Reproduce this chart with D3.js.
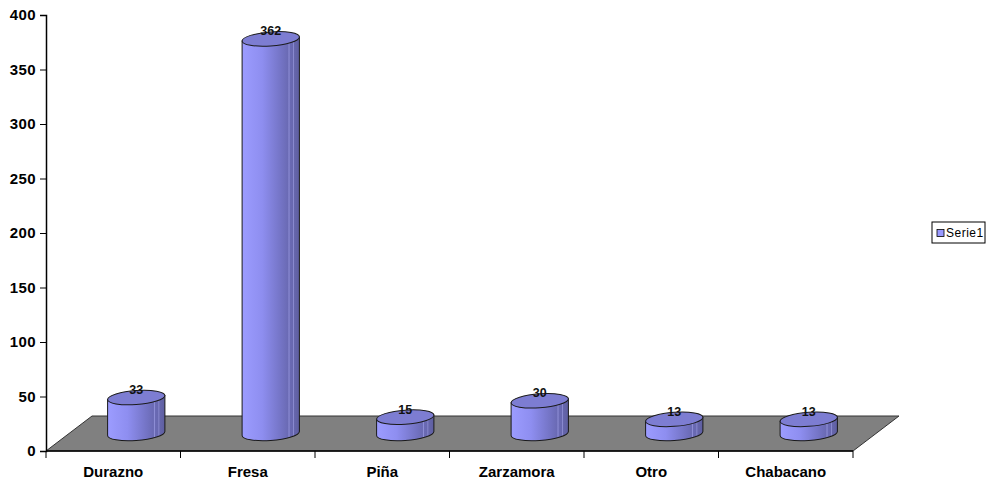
<!DOCTYPE html>
<html>
<head>
<meta charset="utf-8">
<script src="https://cdn.jsdelivr.net/npm/d3@7"></script>
<style>
  html, body { margin: 0; padding: 0; background: #fff; }
  svg { display: block; font-family: Arial, "Liberation Sans", sans-serif; }
</style>
</head>
<body>
<svg id="chart" width="993" height="480"></svg>
<script>
// Data
const categories = ["Durazno", "Fresa", "Piña", "Zarzamora", "Otro", "Chabacano"];
const values = [33, 362, 15, 30, 13, 13];
const yTicks = [0, 50, 100, 150, 200, 250, 300, 350, 400];
const seriesName = "Serie1";

const svg = d3.select("#chart");

// Plot frame: front edge of the floor and depth offset of the 3D box
const x = d3.scaleBand().domain(categories).range([46, 853]).padding(0);
const y = d3.scaleLinear().domain([0, 400]).range([451, 15]);
const depthX = 46, depthY = -35;

const defs = svg.append("defs");
const grad = defs.append("linearGradient").attr("id", "cyl").attr("x1", "0").attr("x2", "1").attr("y1", "0").attr("y2", "0");
[
  [0, "#9c9cff"], [0.35, "#8e8ef0"], [0.7, "#7272c2"], [0.8, "#6a6ab4"],
  [0.82, "#9090d8"], [0.835, "#6a6ab4"], [0.88, "#6868b0"], [0.895, "#8e8ed4"],
  [0.91, "#6666ac"], [1, "#5e5ea0"]
].forEach(([o, c]) => grad.append("stop").attr("offset", o).attr("stop-color", c));

// Floor
const x0 = x.range()[0], x1 = x.range()[1], y0 = y(0);
svg.append("path")
  .attr("d", `M${x0},${y0} L${x0 + depthX},${y0 + depthY} L${x1 + depthX},${y0 + depthY} L${x1},${y0} Z`)
  .attr("fill", "#808080").attr("stroke", "#333").attr("stroke-width", 1);

// Y axis
const yAxis = d3.axisLeft(y).tickValues(yTicks).tickSize(6).tickPadding(4);
const gy = svg.append("g").attr("transform", `translate(${x0},0)`).call(yAxis);
gy.select(".domain").attr("stroke", "#000").attr("stroke-width", 1.5);
gy.selectAll(".tick line").attr("stroke", "#000");
gy.selectAll(".tick text").attr("font-size", 15).attr("font-weight", "bold")
  .attr("fill", "#000").style("letter-spacing", "0.4px");

// X axis baseline, category boundary ticks and labels
const gx = svg.append("g").attr("transform", `translate(0,${y0})`);
gx.append("line").attr("x1", x0).attr("x2", x1).attr("stroke", "#000").attr("stroke-width", 1.5);
const bounds = categories.map(c => x(c)).concat([x1]);
gx.selectAll("line.tk").data(bounds).join("line").attr("class", "tk")
  .attr("x1", d => d).attr("x2", d => d).attr("y1", 0).attr("y2", 7).attr("stroke", "#000");
gx.selectAll("text").data(categories).join("text")
  .attr("x", d => x(d) + x.bandwidth() / 2).attr("y", 26)
  .attr("text-anchor", "middle").attr("font-size", 15).attr("font-weight", "bold")
  .text(d => d);

// Cylinders, centred at half depth
const rx = x.bandwidth() * 0.213, ry = 7;
const zBase = y0 + depthY / 2;
const bars = svg.append("g").selectAll("g").data(categories.map((c, i) => ({ c, v: values[i] }))).join("g")
  .attr("transform", d => {
    const cx = x(d.c) + x.bandwidth() / 2 + depthX / 2;
    return `translate(${cx},0) skewY(-4)`;
  });

const hOf = v => y(0) - y(v);
bars.append("path")
  .attr("d", d => {
    const top = zBase - hOf(d.v);
    return `M${-rx},${top} L${-rx},${zBase} A${rx},${ry} 0 0 0 ${rx},${zBase} L${rx},${top} Z`;
  })
  .attr("fill", "url(#cyl)").attr("stroke", "#1a1a1a").attr("stroke-width", 1);
bars.append("ellipse")
  .attr("cx", 0).attr("cy", d => zBase - hOf(d.v)).attr("rx", rx).attr("ry", ry)
  .attr("fill", "#7d7dd2").attr("stroke", "#1a1a1a").attr("stroke-width", 1);

// Value labels
svg.append("g").selectAll("text").data(categories.map((c, i) => ({ c, v: values[i] }))).join("text")
  .attr("x", d => x(d.c) + x.bandwidth() / 2 + depthX / 2)
  .attr("y", d => zBase - hOf(d.v) - 3.5)
  .attr("text-anchor", "middle").attr("font-size", 12.5).attr("font-weight", "bold")
  .attr("fill", "#111").text(d => d.v);

// Legend
const lg = svg.append("g").attr("transform", "translate(932,222)");
lg.append("rect").attr("width", 53).attr("height", 21).attr("fill", "#fff").attr("stroke", "#000");
lg.append("rect").attr("x", 5).attr("y", 7.5).attr("width", 7).attr("height", 7)
  .attr("fill", "#9999ff").attr("stroke", "#000").attr("stroke-width", 0.8);
lg.append("text").attr("x", 14).attr("y", 15).attr("font-size", 12)
  .style("letter-spacing", "0.5px").text(seriesName);
</script>
</body>
</html>
